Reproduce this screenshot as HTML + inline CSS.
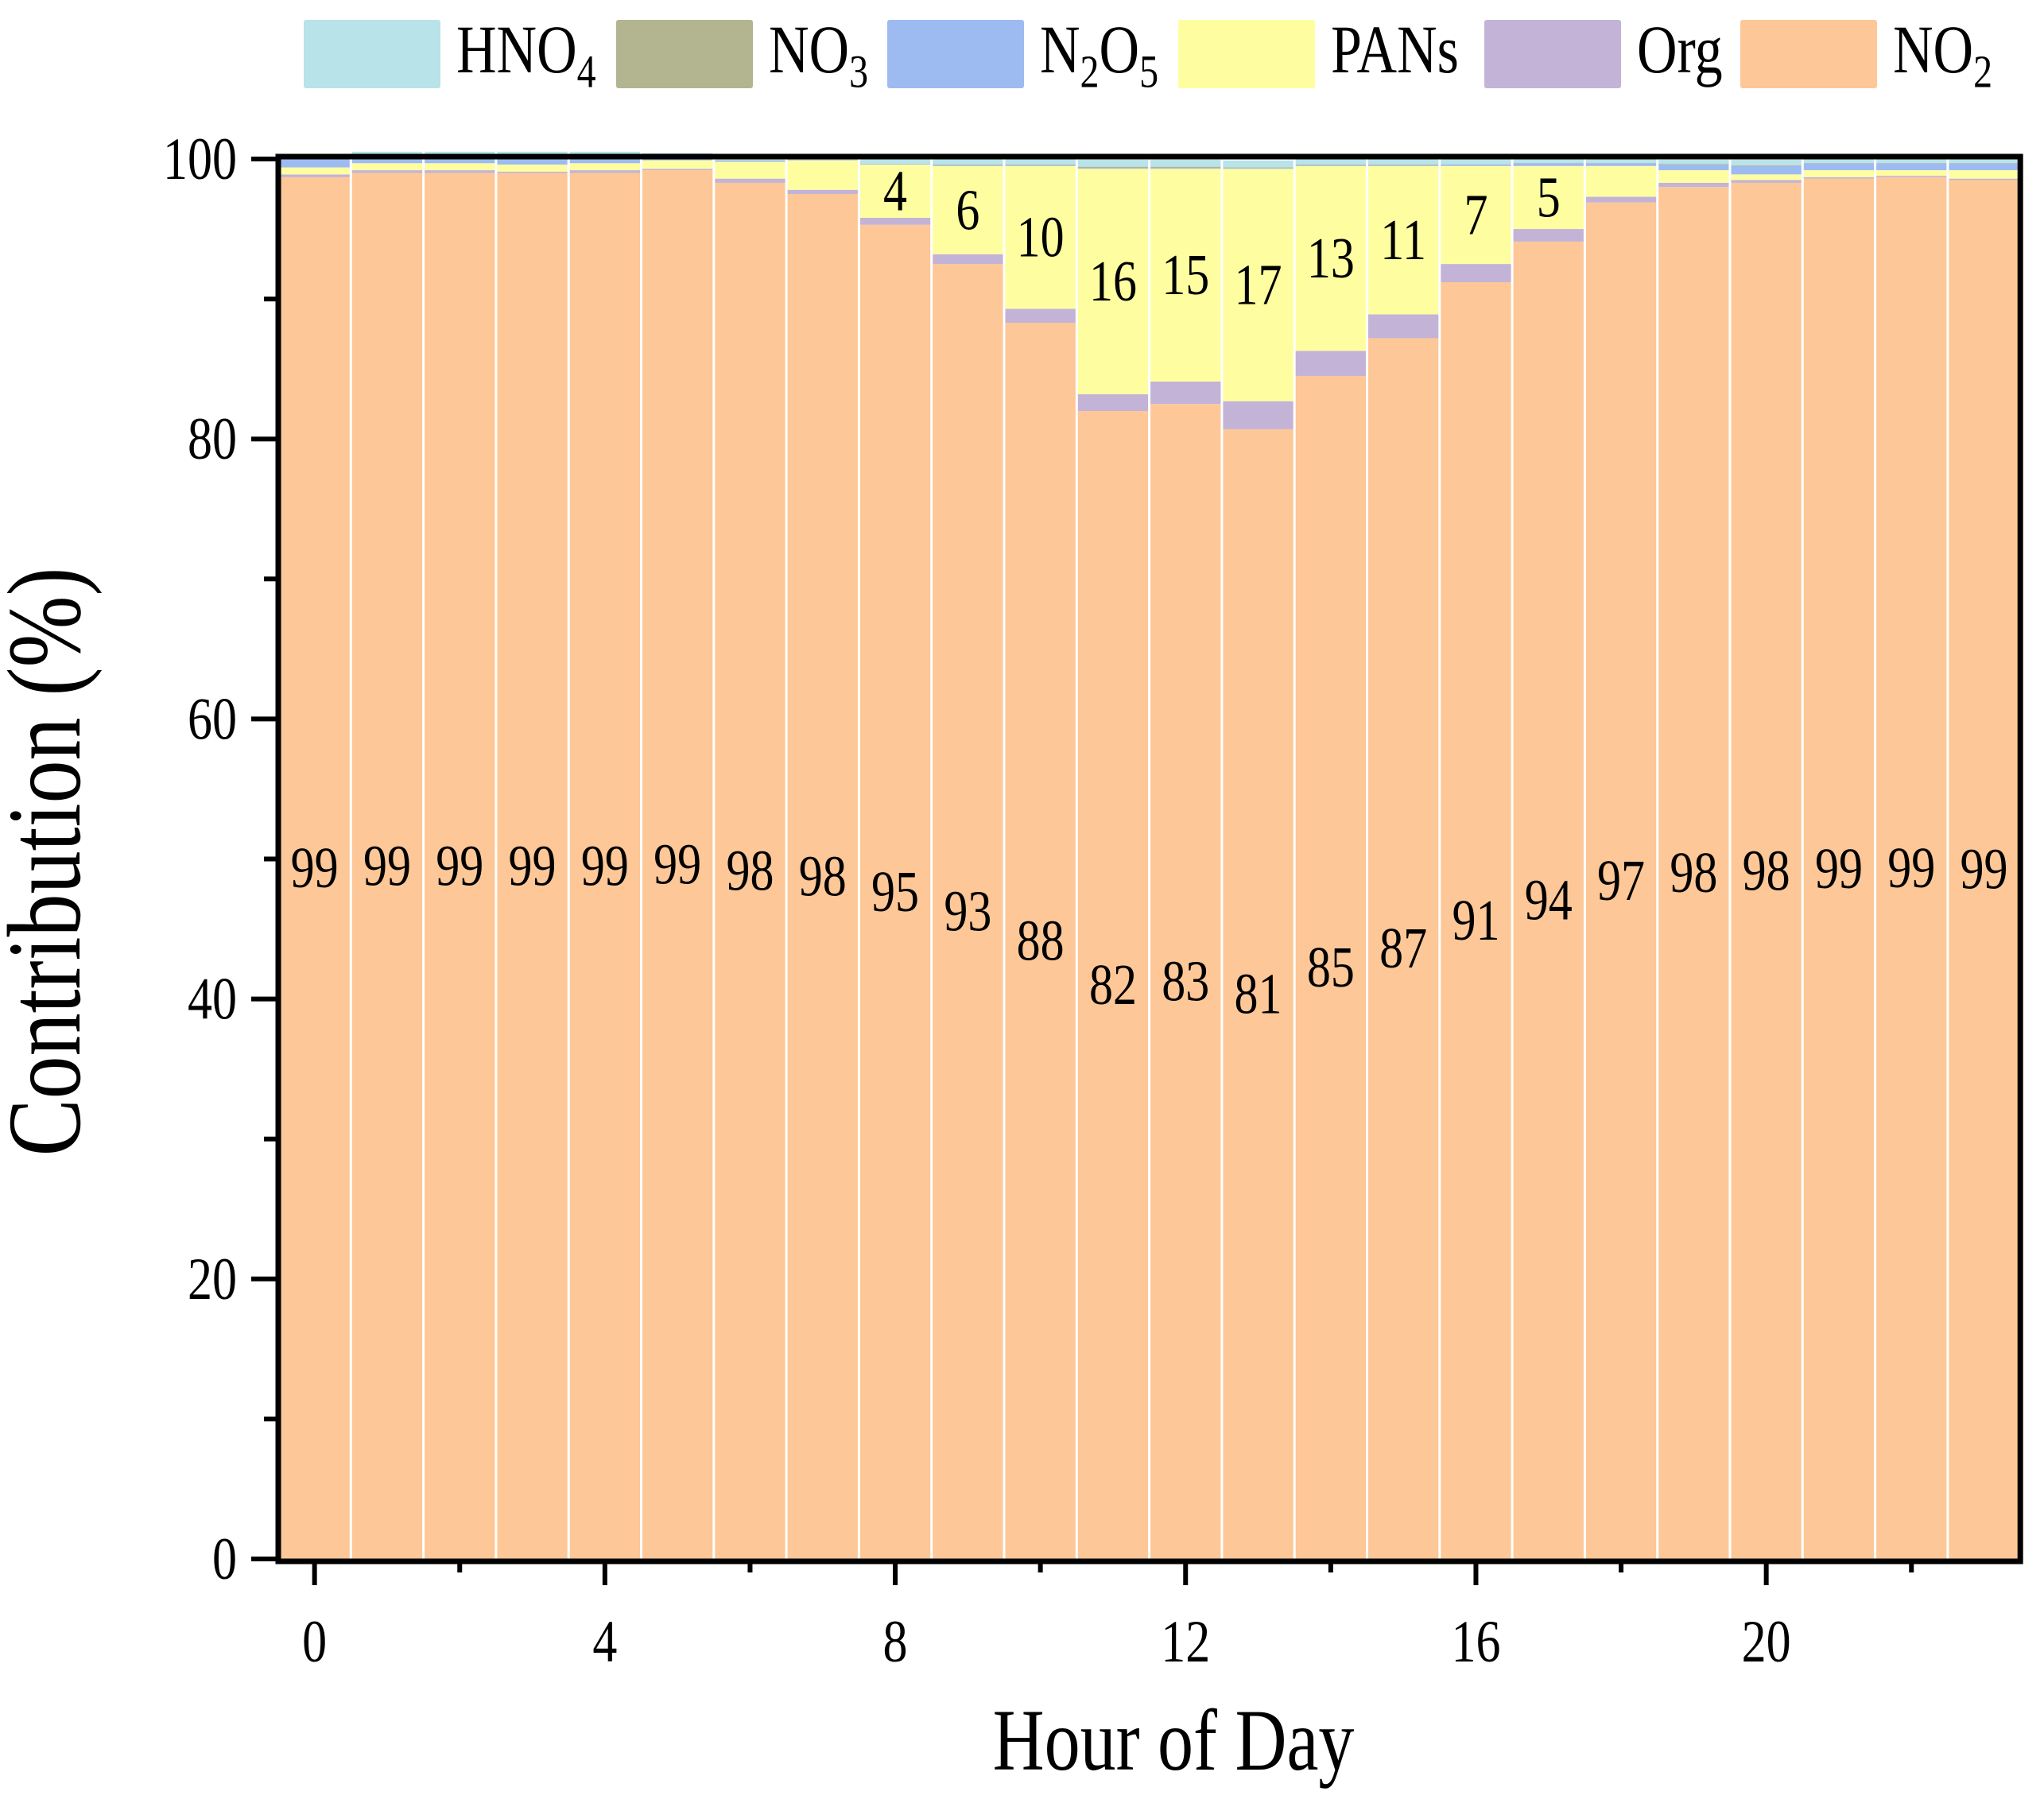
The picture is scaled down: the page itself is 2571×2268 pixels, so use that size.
<!DOCTYPE html>
<html><head><meta charset="utf-8"><style>
html,body{margin:0;padding:0;background:#fff;}
svg{display:block;font-family:"Liberation Serif","Times New Roman",serif;}
</style></head>
<body>
<svg id="chart" width="2571" height="2268" viewBox="0 0 2571 2268" xmlns="http://www.w3.org/2000/svg"></svg>
<script>
const hours = [0,1,2,3,4,5,6,7,8,9,10,11,12,13,14,15,16,17,18,19,20,21,22,23];
const no2  = [98.7,99.0,99.0,99.0,99.0,99.2,98.3,97.5,95.3,92.5,88.3,82.0,82.5,80.7,84.5,87.2,91.2,94.1,96.9,98.0,98.3,98.6,98.7,98.5];
const org  = [0.2,0.2,0.2,0.1,0.2,0.1,0.3,0.3,0.5,0.7,1.0,1.2,1.6,2.0,1.8,1.7,1.3,0.9,0.4,0.3,0.2,0.1,0.1,0.1];
const pans = [0.5,0.5,0.5,0.5,0.5,0.6,1.2,2.1,3.8,6.3,10.2,16.1,15.2,16.6,13.2,10.6,7.0,4.5,2.2,0.9,0.4,0.5,0.4,0.6];
const n2o5 = [0.6,0.5,0.5,0.5,0.5,0.2,0.1,0.05,0.05,0.05,0.05,0.05,0.05,0.05,0.05,0.05,0.1,0.2,0.2,0.4,0.6,0.5,0.5,0.5];
const no3  = [0.02,0.02,0.02,0.02,0.02,0.02,0.02,0.02,0.02,0.05,0.05,0.1,0.1,0.05,0.05,0.05,0.02,0.02,0.02,0.05,0.05,0.02,0.02,0.02];
const hno4 = [0.3,0.3,0.3,0.4,0.3,0.3,0.3,0.3,0.4,0.5,0.5,0.5,0.5,0.5,0.5,0.5,0.4,0.3,0.3,0.3,0.4,0.3,0.3,0.3];
const no2Labels  = [99,99,99,99,99,99,98,98,95,93,88,82,83,81,85,87,91,94,97,98,98,99,99,99];
const pansLabels = [null,null,null,null,null,null,null,null,4,6,10,16,15,17,13,11,7,5,null,null,null,null,null,null];
const yTicks = [0,20,40,60,80,100];
const xTicks = [0,4,8,12,16,20];

const NS="http://www.w3.org/2000/svg";
const svg=document.getElementById('chart');
const X0=350, HW=91.3, Y0=1961, YS=17.61, SY=1.22;
const xScale=h=>X0+(h+0.5)*HW;
const yScale=v=>Y0-v*YS;
function mk(tag,attrs,parent){const e=document.createElementNS(NS,tag);for(const k in attrs)e.setAttribute(k,attrs[k]);(parent||svg).appendChild(e);return e;}
function txt(x,y,str,size,anchor,sx,sy,rot,parent){
  const t=mk('text',{x:0,y:0,'text-anchor':anchor,'font-size':size,fill:'#000',
    transform:'translate('+x+','+y+')'+(rot?' rotate('+rot+')':'')+' scale('+sx+','+sy+')'},parent);
  t.textContent=str;return t;
}

const series=[
 {name:'no2',vals:no2,color:'#FDC797'},
 {name:'org',vals:org,color:'#C3B3D6'},
 {name:'pans',vals:pans,color:'#FEFEA1'},
 {name:'n2o5',vals:n2o5,color:'#9DBBF1'},
 {name:'no3',vals:no3,color:'#B2B58F'},
 {name:'hno4',vals:hno4,color:'#B7E3E9'}
];
const gBars=mk('g',{});


hours.forEach((h,i)=>{
  let cum=0;
  series.forEach(s=>{
    const v=s.vals[i];
    const r=mk('rect',{x:xScale(h)-HW/2+1.5,y:yScale(cum+v),width:HW-3,height:v*YS,fill:s.color},gBars);
    
    
    cum+=v;
  });
});
hours.forEach((h,i)=>{
  const t=txt(xScale(h),yScale(no2[i]/2)+24,no2Labels[i],60,'middle',1,SY);
  
  
  if(pansLabels[i]!==null){
    const m=no2[i]+org[i]+pans[i]/2;
    const p=txt(xScale(h),yScale(m)+24,pansLabels[i],60,'middle',1,SY);
    
    
  }
});
const fr=mk('rect',{x:X0,y:yScale(100)-3,width:24*HW,height:Y0+3-(yScale(100)-3),fill:'none',stroke:'#000','stroke-width':7});


for(let v=0;v<=100;v+=10){
  const major=v%20===0;
  const tk=mk('line',{x1:X0,x2:X0-(major?34:18),y1:yScale(v),y2:yScale(v),stroke:'#000','stroke-width':6});
  
  
}
yTicks.forEach(v=>{
  const t=txt(298,yScale(v)+25,v,62,'end',1,SY);
  
  
});
for(let h=0;h<=22;h+=2){
  const major=h%4===0;
  const tk=mk('line',{x1:xScale(h),x2:xScale(h),y1:Y0+3,y2:Y0+3+(major?30:14),stroke:'#000','stroke-width':6});
  
  
}
xTicks.forEach(h=>{
  const t=txt(xScale(h),2090,h,62,'middle',1,SY);
  
  
});
const xt=txt(1476,2226,'Hour of Day',90,'middle',1,SY);


const yt=txt(100,1084,'Contribution (%)',108,'middle',1,SY,-90);


const legend=[
 {x:382,color:'#B7E3E9',main:'HNO',sub:'4',name:'hno4'},
 {x:775,color:'#B2B58F',main:'NO',sub:'3',name:'no3'},
 {x:1116,color:'#9DBBF1',main:'N',sub:'2',main2:'O',sub2:'5',name:'n2o5'},
 {x:1482,color:'#FEFEA1',main:'PANs',name:'pans'},
 {x:1867,color:'#C3B3D6',main:'Org',name:'org'},
 {x:2189,color:'#FDC797',main:'NO',sub:'2',name:'no2'}
];
legend.forEach(l=>{
  const g=mk('g',{});
  
  
  mk('rect',{x:l.x,y:25,width:172,height:86,rx:3,fill:l.color},g);
  const t=mk('text',{x:0,y:0,'font-size':70,transform:'translate('+(l.x+192)+',91) scale(1,'+SY+')'},g);
  let s='<tspan>'+l.main+'</tspan>';
  if(l.sub) s+='<tspan font-size="48" dy="15">'+l.sub+'</tspan>';
  if(l.main2) s+='<tspan dy="-15">'+l.main2+'</tspan><tspan font-size="48" dy="15">'+l.sub2+'</tspan>';
  t.innerHTML=s;
});
</script>
</body></html>
